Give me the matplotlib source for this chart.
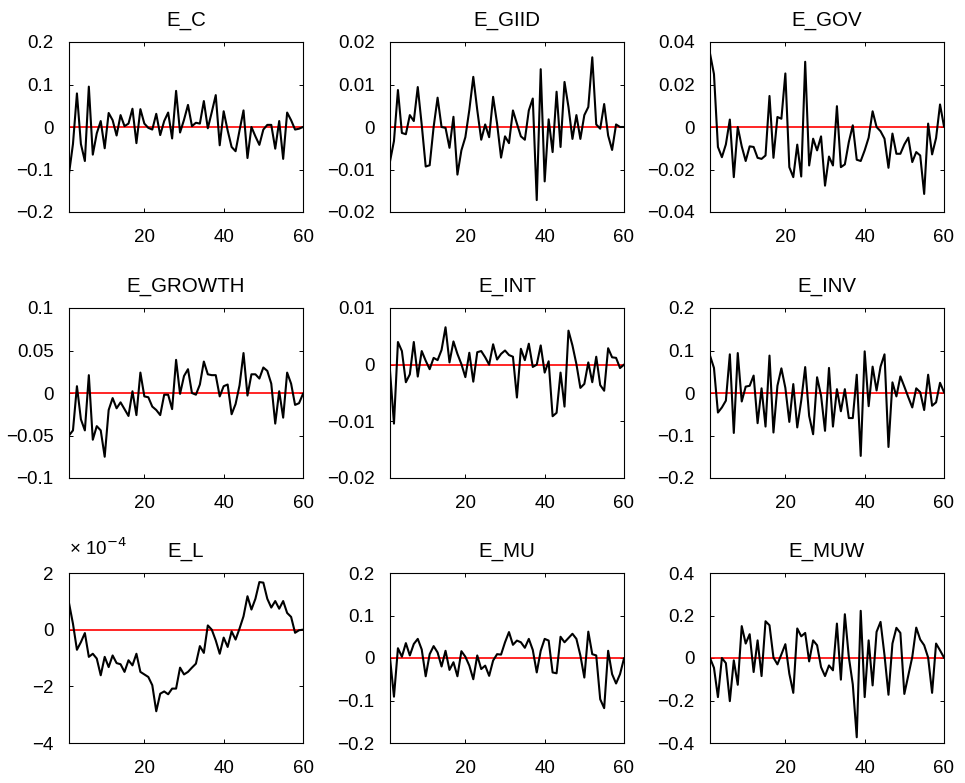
import numpy as np
import matplotlib
matplotlib.use("Agg")
import matplotlib.pyplot as plt

plt.rcParams['font.family'] = ['Liberation Sans', 'DejaVu Sans']

# periods 1..60
t = np.arange(1, 61)

# smoothed shocks
e_c = np.array([-110, -40, 79, -40, -80, 95, -65, -15, 14, -50,
                33, 16, -20, 28, 2, 8, 43, -38, 42, 8,
                -2, -6, 31, -19, 14, 34, -27, 85, -13, 17,
                52, 2, 10, 8, 61, -3, 35, 75, -43, 37,
                -8, -47, -57, -8, 39, -73, 0, -22, -42, -6,
                5, 5, -51, 14, -75, 34, 16, -6, -4, 0]) * 1e-3

e_giid = np.array([-8.1, -3.3, 8.7, -1.4, -1.7, 2.8, 1.4, 9.4, 0.5, -9.3,
                   -9.0, 0.0, 6.9, 0.0, -0.2, -4.9, 2.4, -11.2, -5.5, -2.4,
                   4.0, 11.8, 4.0, -3.0, 0.6, -2.4, 7.1, 0.8, -7.2, -2.2,
                   -3.8, 3.9, 0.8, -2.2, -3.0, 3.9, 6.7, -17.2, 13.6, -12.8,
                   1.8, -5.9, 8.3, -4.7, 10.6, 4.7, -2.8, 2.8, -2.8, 2.8,
                   4.7, 16.4, 0.6, -0.4, 5.4, -2.0, -5.4, 0.6, 0.0, 0.0]) * 1e-3

e_gov = np.array([34.6, 24.9, -9.4, -14.2, -8.2, 3.5, -23.6, 0.0, -9.1, -16.0,
                  -9.1, -9.4, -14.5, -15.0, -13.4, 14.6, -14.5, 4.7, 3.9, 25.2,
                  -18.9, -23.6, -8.3, -23.3, 30.7, -18.1, -5.5, -11.0, -4.4, -27.6,
                  -13.9, -18.1, 9.8, -18.9, -17.6, -7.1, 0.8, -15.4, -16.0, -11.0,
                  -5.0, 7.4, 0.0, -2.0, -5.5, -19.2, -3.1, -12.6, -12.6, -8.2,
                  -5.0, -16.5, -11.8, -13.4, -31.5, 1.6, -12.9, -5.2, 10.6, 0.3]) * 1e-3

e_growth = np.array([-50, -44, 8, -31, -44, 21, -55, -39, -44, -75,
                     -20, -6, -18, -11, -19, -27, 2, -26, 24, -4,
                     -5, -16, -20, -26, -2, -2, -19, 39, -1, 20,
                     28, 0, -2, 10, 37, 22, 21, 21, -4, 8,
                     10, -25, -13, 9, 47, -3, 22, 22, 17, 30,
                     26, 11, -36, 2, -29, 24, 11, -14, -12, -1]) * 1e-3

e_int = np.array([-1.1, -10.4, 4.0, 2.4, -3.1, -1.7, 4.0, -2.1, 2.4, 0.7,
                  -0.8, 1.2, 0.8, 2.6, 6.6, 0.4, 4.1, 1.9, 0.1, -2.2,
                  2.1, -3.0, 2.2, 2.4, 1.3, 0.0, 3.6, 0.9, 1.9, 2.5,
                  1.7, 1.4, -5.8, 2.8, 0.8, 3.7, -0.4, 0.0, 3.4, -1.4,
                  0.6, -9.1, -8.5, -1.4, -7.4, 6.0, 3.4, 0.1, -4.1, -3.4,
                  0.4, -3.1, 1.4, -3.6, -4.6, 2.9, 1.3, 1.2, -0.6, 0.0]) * 1e-3

e_inv = np.array([8.8, 5.9, -4.6, -3.4, -1.8, 9.1, -9.4, 9.4, -2.0, 1.5,
                  1.7, 4.1, -7.1, 1.1, -7.9, 8.8, -9.3, 1.7, 5.8, 1.2,
                  -6.8, 2.1, -8.1, -1.8, 6.1, -5.4, -9.7, 3.7, -0.6, -8.9,
                  5.9, -7.9, 0.9, -4.3, 0.9, -5.9, -5.9, 4.3, -14.8, 9.8,
                  -3.1, 6.2, 0.6, 6.2, 9.1, -12.7, 2.5, -0.8, 3.9, 1.5,
                  -1.0, -3.4, 1.1, 0.2, -4.0, 4.3, -3.0, -2.2, 2.4, 0.2]) * 1e-2

# E_L in units of 1e-5
e_l = np.array([9.4, 2.1, -7.1, -4.4, -1.2, -9.6, -8.5, -10.2, -16.1, -9.6,
                -13.2, -9.1, -11.8, -12.2, -14.9, -10.8, -12.6, -8.5, -14.9, -15.8,
                -16.7, -19.6, -28.8, -22.6, -21.8, -22.8, -20.8, -20.8, -13.4, -15.8,
                -14.9, -13.4, -12.0, -5.8, -8.2, 1.5, 0.0, -3.8, -8.5, -2.8,
                -6.1, -0.6, -3.5, 0.4, 4.7, 11.8, 7.1, 10.9, 16.8, 16.6,
                10.9, 7.8, 10.1, 7.4, 10.1, 5.9, 4.5, -1.1, -0.2, 0.0]) * 1e-5

e_mu = np.array([0.0, -9.1, 2.3, 0.3, 3.5, 0.6, 3.3, 4.5, 2.0, -4.3,
                 0.9, 2.8, 1.3, -2.0, 1.7, -2.8, -1.0, -4.3, 1.6, 0.3,
                 -1.8, -5.0, 0.6, -2.6, -1.8, -4.2, -0.6, 0.9, 0.8, 3.7,
                 6.1, 3.1, 4.1, 3.7, 2.4, 4.5, 1.9, -3.4, 1.7, 4.5,
                 4.1, -3.4, -3.6, 5.0, 3.7, 4.7, 5.7, 4.5, 0.6, -4.6,
                 6.2, 0.9, 0.6, -9.7, -11.8, 1.7, -3.8, -6.0, -3.8, -0.1]) * 1e-2

e_muw = np.array([0.0, -4.6, -18.4, 0.0, -2.4, -20.3, -1.1, -12.6, 15.0, 6.8,
                  11.2, -6.6, 8.3, -8.5, 17.3, 15.4, 0.2, -3.0, 1.7, 6.5,
                  -7.4, -16.4, 13.9, 10.2, 11.8, -1.6, 8.3, 6.0, -4.3, -8.5,
                  -3.5, -5.8, 16.2, -10.2, 20.6, 0.5, -12.4, -37.3, 22.2, -18.4,
                  8.3, -12.9, 12.3, 17.0, 1.3, -17.3, 6.8, 14.2, 11.8, -16.9,
                  -8.2, 0.5, 14.3, 8.7, 6.0, 0.2, -16.4, 6.8, 3.6, 0.2]) * 1e-2

names = ["E_C", "E_GIID", "E_GOV", "E_GROWTH", "E_INT", "E_INV", "E_L", "E_MU", "E_MUW"]
series = [e_c, e_giid, e_gov, e_growth, e_int, e_inv, e_l, e_mu, e_muw]
y_ranges = [(-0.2, 0.2), (-0.02, 0.02), (-0.04, 0.04), (-0.1, 0.1), (-0.02, 0.01),
            (-0.2, 0.2), (-4, 2), (-0.2, 0.2), (-0.4, 0.4)]
y_ticks = [
    [-0.2, -0.1, 0, 0.1, 0.2],
    [-0.02, -0.01, 0, 0.01, 0.02],
    [-0.04, -0.02, 0, 0.02, 0.04],
    [-0.1, -0.05, 0, 0.05, 0.1],
    [-0.02, -0.01, 0, 0.01],
    [-0.2, -0.1, 0, 0.1, 0.2],
    [-4, -2, 0, 2],
    [-0.2, -0.1, 0, 0.1, 0.2],
    [-0.4, -0.2, 0, 0.2, 0.4],
]
x_ticks = [20, 40, 60]

fig = plt.figure(figsize=(9.65, 7.83), dpi=100)

# axes boxes in pixels (MATLAB subplot grid)
lefts = [69, 390, 710]
tops = [42, 308, 573]
W, H = 234, 170

for k, (name, y) in enumerate(zip(names, series)):
    r, c = divmod(k, 3)
    ax = fig.add_axes([lefts[c] / 965, 1 - (tops[r] + H) / 783, W / 965, H / 783])
    yy = y * 1e4 if name == "E_L" else y
    ax.plot(t, yy, color='k', lw=1.5, zorder=3)
    ax.axhline(0, color='r', lw=1.2, zorder=2)
    ax.set_xlim(1, 60)
    ax.set_xticks(x_ticks)
    ax.set_ylim(*y_ranges[k])
    ax.set_yticks(y_ticks[k])
    ax.set_yticklabels([("%g" % v).replace("-", "\u2212") for v in y_ticks[k]])
    ax.tick_params(direction='in', top=True, right=True, length=3, width=0.7,
                   labelsize=13.5)
    ax.tick_params(axis='x', pad=12)
    ax.tick_params(axis='y', pad=11)
    for sp in ax.spines.values():
        sp.set_linewidth(0.8)
    ax.set_title(name, fontsize=14.8, pad=11.5)
    if name == "E_L":
        ax.text(0.0, 1 + 18 / H, "\u00d7 10$^{\u22124}$", transform=ax.transAxes,
                fontsize=13.5, ha='left', va='baseline')

fig.savefig("out.png", dpi=100)
